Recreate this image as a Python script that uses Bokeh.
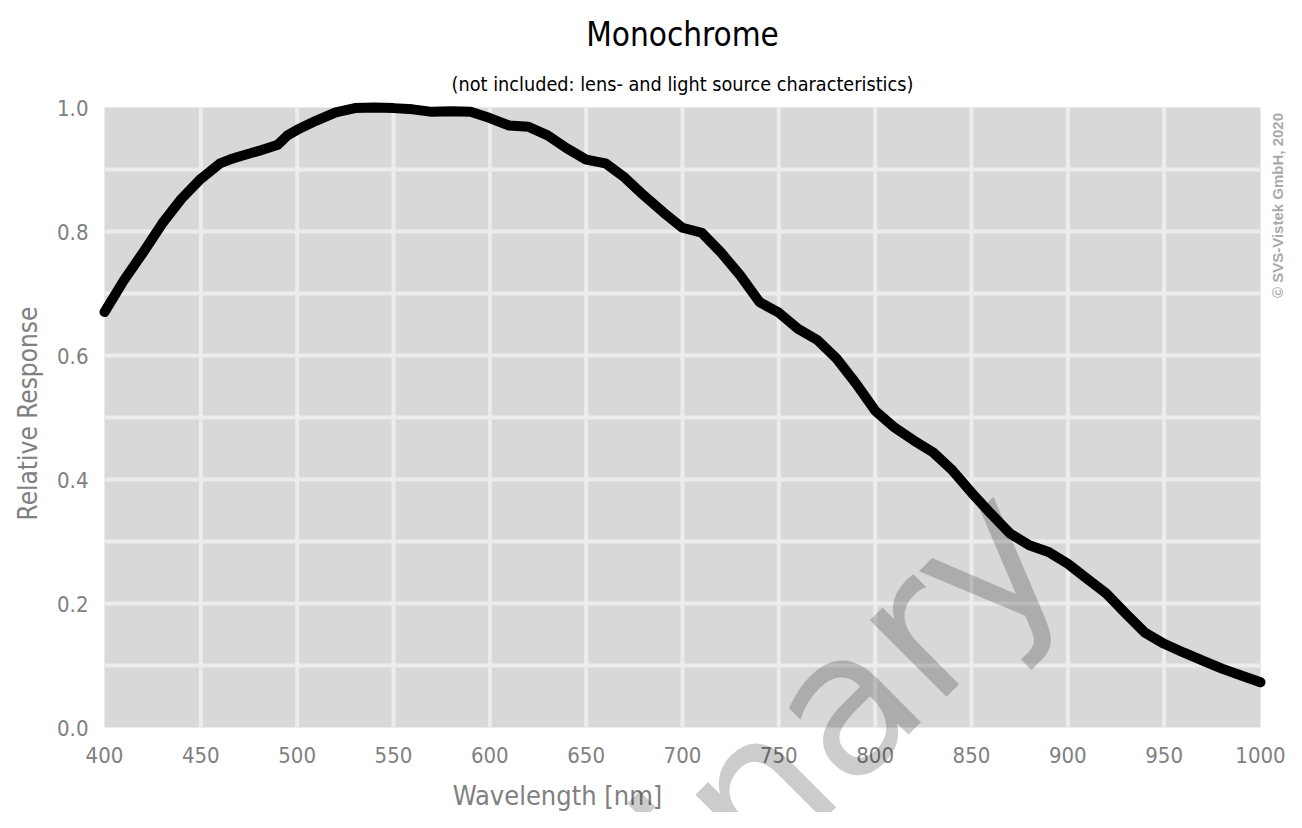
import math
from bokeh.plotting import figure
from bokeh.models import Range1d, FixedTicker, Label, LinearAxis, BoxAnnotation
from bokeh.embed import file_html
from bokeh.resources import INLINE

# ---- data -----------------------------------------------------------------
wavelength = [400, 410, 420, 430, 440, 450, 460, 465, 470, 480, 490, 495, 500,
              510, 520, 530, 540, 550, 560, 570, 580, 590, 600, 610, 620, 630,
              640, 650, 660, 670, 680, 690, 700, 710, 720, 730, 740, 750, 760,
              770, 780, 790, 800, 810, 820, 830, 840, 850, 860, 870, 880, 890,
              900, 910, 920, 930, 940, 950, 960, 970, 980, 990, 1000]
response = [0.670, 0.721, 0.766, 0.813, 0.853, 0.885, 0.910, 0.916, 0.921,
            0.930, 0.940, 0.955, 0.964, 0.979, 0.992, 0.999, 1.000, 0.999,
            0.997, 0.993, 0.994, 0.993, 0.983, 0.971, 0.969, 0.955, 0.934,
            0.916, 0.910, 0.887, 0.858, 0.831, 0.806, 0.798, 0.766, 0.729,
            0.686, 0.669, 0.643, 0.625, 0.595, 0.555, 0.511, 0.484, 0.463,
            0.444, 0.415, 0.379, 0.345, 0.313, 0.294, 0.283, 0.264, 0.240,
            0.216, 0.184, 0.153, 0.135, 0.121, 0.108, 0.095, 0.084, 0.073]

x_ticks = [400, 450, 500, 550, 600, 650, 700, 750, 800, 850, 900, 950, 1000]
x_grid = [450, 500, 550, 600, 650, 700, 750, 800, 850, 900, 950]
y_ticks = [0.0, 0.2, 0.4, 0.6, 0.8, 1.0]
y_grid = [0.1, 0.2, 0.3, 0.4, 0.5, 0.6, 0.7, 0.8, 0.9]

title_text = "Monochrome"
subtitle_text = "(not included: lens- and light source characteristics)"
x_label = "Wavelength [nm]"
y_label = "Relative Response"
copyright_text = "\u00a9 SVS-Vistek GmbH, 2020"
watermark_text = "Preliminary"

FONT = "DejaVu Sans Condensed, Roboto"
GREY = "#808080"

# ---- layout: the frame covers the whole canvas; the plotting area is mapped
# so that 400..1000 nm / 0..1 land on pixels 104..1260 / 727..107 -----------
W, H = 1286, 812
X0, X1, XPX0, XPX1 = 400, 1000, 104, 1260
Y0, Y1, YPX0, YPX1 = 0.0, 1.0, 727, 107
kx = (XPX1 - XPX0) / (X1 - X0)
ky = (YPX0 - YPX1) / (Y1 - Y0)
x_range = Range1d(X0 - XPX0 / kx, X0 + (W - XPX0) / kx)
y_range = Range1d(Y0 - (H - YPX0) / ky, Y0 + YPX0 / ky)

def dx(px):
    return X0 + (px - XPX0) / kx

def dy(py):
    return Y0 + (YPX0 - py) / ky

p = figure(width=W, height=H, output_backend="svg", toolbar_location=None,
           x_range=x_range, y_range=y_range, title=None,
           x_axis_type=None, y_axis_type=None,
           min_border=0, min_border_left=0, min_border_right=0,
           min_border_top=0, min_border_bottom=0)
p.background_fill_color = "white"
p.border_fill_color = "white"
p.outline_line_color = None

# plotting-area background
p.add_layout(BoxAnnotation(left=X0, right=X1, bottom=Y0, top=Y1,
                           fill_color="#d8d8d8", fill_alpha=1.0,
                           line_color=None, level="underlay"))

# grid lines
p.segment(x0=x_grid, x1=x_grid, y0=[Y0] * len(x_grid), y1=[Y1] * len(x_grid),
          line_color="#ececec", line_width=4)
p.segment(x0=[X0] * len(y_grid), x1=[X1] * len(y_grid), y0=y_grid, y1=y_grid,
          line_color="#ececec", line_width=4)

# axes fixed at the plotting-area edges
xaxis = LinearAxis(fixed_location=Y0, ticker=FixedTicker(ticks=x_ticks))
yaxis = LinearAxis(fixed_location=X0, ticker=FixedTicker(ticks=y_ticks))
yaxis.major_label_overrides = {t: f"{t:.1f}" for t in y_ticks}
for ax in (xaxis, yaxis):
    ax.axis_line_color = None
    ax.major_tick_line_color = None
    ax.minor_tick_line_color = None
    ax.major_label_text_font = FONT
    ax.major_label_text_font_size = "22px"
    ax.major_label_text_color = GREY
xaxis.major_label_standoff = 13
yaxis.major_label_standoff = 10
p.add_layout(xaxis, "below")
p.add_layout(yaxis, "left")

# the curve
p.line(wavelength, response, line_color="black", line_width=10,
       line_join="round", line_cap="round")

# ---- texts ----------------------------------------------------------------
BASE_SHIFT = 0.37  # measured offset of the drawn baseline, in font sizes

def add_text(px, py, text, fs, angle=0.0, **kw):
    """Place a label whose alphabetic baseline anchor is at pixel (px, py)."""
    sx = px - BASE_SHIFT * fs * math.sin(angle)
    sy = py - BASE_SHIFT * fs * math.cos(angle)
    p.add_layout(Label(x=dx(sx), y=dy(sy), text=text, angle=angle,
                       text_font_size=f"{fs}px", text_baseline="alphabetic",
                       **kw))

add_text(682, 46, title_text, 33, text_font=FONT, text_color="black",
         text_align="center")
add_text(682, 91, subtitle_text, 19.7, text_font=FONT, text_color="black",
         text_align="center")
add_text(557, 805, x_label, 27, text_font=FONT, text_color=GREY,
         text_align="center")
add_text(37, 413, y_label, 26, angle=math.pi / 2, text_font=FONT,
         text_color=GREY, text_align="center")
p.add_layout(Label(x=dx(1277), y=dy(205), text=copyright_text,
                   text_font="Liberation Sans", text_font_style="bold",
                   text_font_size="15px", text_color="#aaaaaa",
                   angle=math.pi / 2, text_align="center",
                   text_baseline="middle"))
add_text(1077, 572, watermark_text, 198, angle=math.pi / 4,
         text_font="DejaVu Sans", text_color="black", text_alpha=0.2,
         text_align="right")

open("out.html", "w").write(file_html(p, INLINE))
